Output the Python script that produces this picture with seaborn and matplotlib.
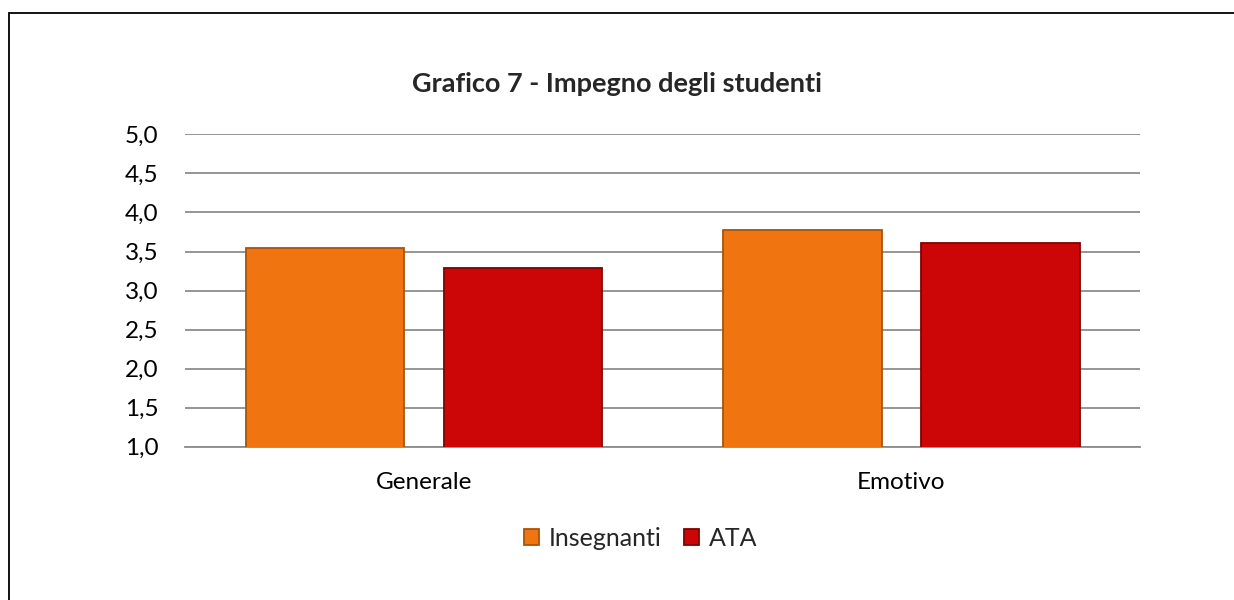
import matplotlib
matplotlib.use("Agg")
import matplotlib.pyplot as plt
import seaborn as sns
import pandas as pd
from matplotlib.lines import Line2D

# data
categories = ["Generale", "Emotivo"]
groups = ["Insegnanti", "ATA"]
insegnanti = [3.54, 3.77]
ata = [3.29, 3.61]
yticks = [1.0, 1.5, 2.0, 2.5, 3.0, 3.5, 4.0, 4.5, 5.0]
ytick_labels = ["1,0", "1,5", "2,0", "2,5", "3,0", "3,5", "4,0", "4,5", "5,0"]

df = pd.DataFrame({
    "categoria": categories * 2,
    "gruppo": [groups[0]] * 2 + [groups[1]] * 2,
    "valore": insegnanti + ata,
})

sns.set_style("white")
plt.rcParams["font.family"] = ["Lato", "DejaVu Sans"]

fig = plt.figure(figsize=(12.34, 6.0), dpi=100)
ax = fig.add_axes([0.150, 0.2555, 0.774, 0.5205])

palette = {"Insegnanti": "#F07511", "ATA": "#CC0606"}
sns.barplot(data=df, x="categoria", y="valore", hue="gruppo", palette=palette,
            width=0.83, gap=0.2, saturation=1, ax=ax, legend=True)

# darker edges to hint at the bevel look
edge = {"#F07511": "#A9530B", "#CC0606": "#7E0303"}
for p in ax.patches:
    fc = matplotlib.colors.to_hex(p.get_facecolor()).upper()
    p.set_edgecolor(edge.get(fc, "#666666"))
    p.set_linewidth(1.3)
    p.set_zorder(3)

ax.set_ylim(1.0, 5.0)
ax.set_yticks(yticks)
ax.set_yticklabels(ytick_labels)
ax.yaxis.grid(True, color="#8C8C8C", linewidth=1.3, zorder=0)
ax.set_axisbelow(True)
for s in ["top", "right", "left"]:
    ax.spines[s].set_visible(False)
ax.spines["bottom"].set_color("#8C8C8C")
ax.spines["bottom"].set_linewidth(1.3)
ax.tick_params(axis="both", length=0, labelsize=17.5, colors="black")
ax.tick_params(axis="x", pad=18)
ax.tick_params(axis="y", pad=19)
ax.set_xlabel("")
ax.set_ylabel("")

fig.suptitle("Grafico 7 - Impegno degli studenti", x=0.5, y=0.88,
             fontsize=19.5, fontweight="bold")

handles, labels = ax.get_legend_handles_labels()
ax.get_legend().remove()
fig.legend(handles, labels, loc="center", bbox_to_anchor=(0.519, 0.103), ncol=2,
           frameon=False, fontsize=18, handlelength=0.6, handleheight=0.6,
           handletextpad=0.4, columnspacing=0.9)

# chart frame: only left and top edges fall inside the image
fig.add_artist(Line2D([0.0069, 0.0069], [0, 0.979], transform=fig.transFigure,
                      color="black", linewidth=1.3))
fig.add_artist(Line2D([0.0069, 1], [0.979, 0.979], transform=fig.transFigure,
                      color="black", linewidth=1.3))

fig.savefig("out.png", dpi=100)
